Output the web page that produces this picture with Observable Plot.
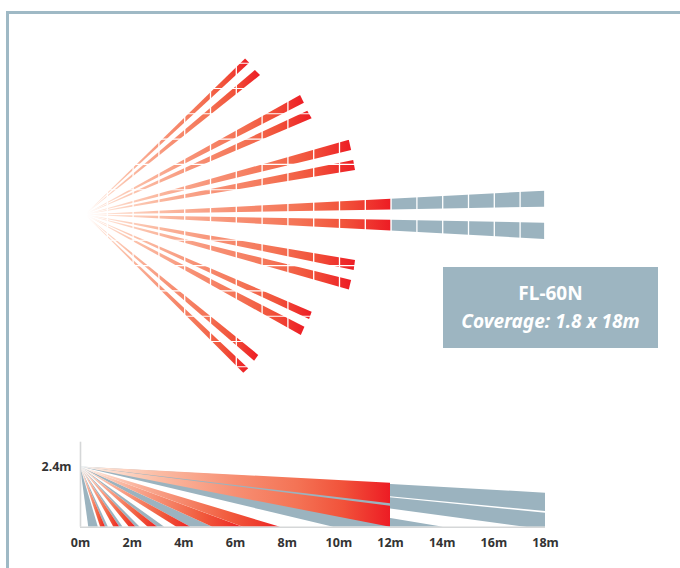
<!DOCTYPE html>
<html>
<head>
<meta charset="utf-8">
<script src="https://cdn.jsdelivr.net/npm/d3@7"></script>
<script src="https://cdn.jsdelivr.net/npm/@observablehq/plot@0.6"></script>
<style>
html,body{margin:0;padding:0;background:#fff;}
#page{position:relative;width:680px;height:568px;overflow:hidden;font-family:"Noto Sans",sans-serif;}
#plan,#side{position:absolute;left:0;}
#plan{top:0;} #side{top:420px;}
svg{display:block;}
.edge{position:absolute;background:#9fb9c5;}
#badge{position:absolute;left:443px;top:267px;width:215px;height:81px;background:#9db5c1;color:#fff;text-align:center;font-weight:700;font-size:19px;line-height:28px;box-sizing:border-box;padding-top:12px;}
#badge i{display:block;}
</style>
</head>
<body>
<div id="page">
  <div id="plan"></div>
  <div id="side"></div>
  <div class="edge" style="left:6px;top:11px;width:674px;height:3px"></div>
  <div class="edge" style="left:6px;top:11px;width:3px;height:557px"></div>
  <div id="badge">FL-60N<i>Coverage: 1.8 x 18m</i></div>
</div>
<script>
// ---- Plan view (metres): two edge tips for each of the beams
const planSource = [0.15, 0];
const tipAx = [6.36, 6.74, 8.49, 8.77, 10.38, 10.55, 12, 12, 10.62, 10.47, 8.94, 8.66, 6.87, 6.48];
const tipAy = [6.17, 5.71, 4.72, 4.10, 2.95, 2.15, 0.625, -0.209, -1.80, -2.59, -3.84, -4.44, -5.55, -6.08];
const tipBx = [6.52, 6.94, 8.64, 8.94, 10.47, 10.62, 12, 12, 10.57, 10.38, 8.84, 8.52, 6.71, 6.29];
const tipBy = [6.00, 5.51, 4.42, 3.80, 2.55, 1.76, 0.198, -0.636, -2.19, -2.96, -4.13, -4.76, -5.78, -6.25];
// grey far sections of the two central beams: start at 12 m, end at 18 m
const farX = [12, 17.95];
const farUpperA = [0.625, 0.941];
const farUpperB = [0.198, 0.308];
const farLowerA = [-0.209, -0.324];
const farLowerB = [-0.636, -0.968];
const gridX = [1,2,3,4,5,6,7,8,9,10,11,12,13,14,15,16,17];
const gridY = [-6,-5,-4,-3,-2,-1,1,2,3,4,5,6];

// ---- Side view (metres): ground crossing of each band's two edges
const mountHeight = 2.4;
const redGroundA = [0.78, 1.29, 1.89, 2.62, 3.73, 5.12, 6.30];
const redGroundB = [0.97, 1.52, 2.15, 2.99, 4.27, 6.29, 7.74];
const greyGroundA = [0.32, 0.97, 1.52, 2.15, 2.99, 4.27, 14.05];
const greyGroundB = [0.69, 1.08, 1.65, 2.31, 3.26, 5.12, 9.80];
// long beams, whose ends are given as x and height
const longRedX = [12, 12];
const longRedA = [1.754, 0.837];
const longRedB = [0.933, 0];
const longGreyX = [18, 18];
const longGreyA = [1.356, 0.558];
const longGreyB = [0.626, -0.11];
const axisTicks = [0,2,4,6,8,10,12,14,16,18];

const RED = "url(#beam)", RED_SHORT = "url(#beamShort)", GREY = "#9bb3bf";
const longStops = [[0,"#ffffff"],[0.07,"#fee3d6"],[0.25,"#fbbca4"],[0.5,"#f78f73"],[0.7,"#f47355"],[0.85,"#f1523a"],[1,"#ed1c24"]];
const shortStops = [[0,"#ffffff"],[0.1,"#fddccd"],[0.3,"#fab099"],[0.55,"#f58265"],[0.75,"#f15a3c"],[0.9,"#ee3a2c"],[1,"#ed1c24"]];

const defs = () => {
  const d = d3.create("svg:defs");
  for (const [id, stops] of [["beam", longStops], ["beamShort", shortStops]]) {
    const g = d.append("linearGradient").attr("id", id).attr("x1",0).attr("x2",1).attr("y1",0).attr("y2",0);
    stops.forEach(([o,c]) => g.append("stop").attr("offset",o).attr("stop-color",c));
  }
  return d.node();
};

// one ribbon = two rows, sharing a start and fanning out to its two tips
const ribbon = (id, ax0, ay0, bx0, by0, ax1, ay1, bx1, by1) => [
  {id, x1:ax0, y1:ay0, x2:bx0, y2:by0},
  {id, x1:ax1, y1:ay1, x2:bx1, y2:by1}
];
const [sx, sy] = planSource;
const planBeams = tipAx.flatMap((_, i) => ribbon(i, sx, sy, sx, sy, tipAx[i], tipAy[i], tipBx[i], tipBy[i]));
const planFar = [
  ...ribbon("u", farX[0], farUpperA[0], farX[0], farUpperB[0], farX[1], farUpperA[1], farX[1], farUpperB[1]),
  ...ribbon("l", farX[0], farLowerA[0], farX[0], farLowerB[0], farX[1], farLowerA[1], farX[1], farLowerB[1])
];
const ch = {x1:"x1", y1:"y1", x2:"x2", y2:"y2", z:"id"};

document.getElementById("plan").append(Plot.plot({
  width: 680, height: 420,
  marginLeft: 81, marginRight: 134.6, marginTop: 12.1, marginBottom: 3.1,
  style: {background:"transparent"},
  x: {domain:[0,18], axis:null},
  y: {domain:[-8,8], axis:null},
  marks: [
    defs,
    Plot.area(planFar, {...ch, fill: GREY}),
    Plot.area(planBeams, {...ch, fill: RED}),
    Plot.ruleX(gridX, {stroke:"#fff", strokeWidth:1.3}),
    Plot.ruleY(gridY, {stroke:"#fff", strokeWidth:1.1})
  ]
}));

const h = mountHeight;
const sideGrey = [
  ...greyGroundA.flatMap((_, i) => ribbon("g"+i, 0, h, 0, h, greyGroundA[i], 0, greyGroundB[i], 0)),
  ...longGreyX.flatMap((x, i) => ribbon("L"+i, 0, h, 0, h, x, longGreyA[i], x, longGreyB[i]))
];
const sideRedShort = redGroundA.flatMap((_, i) => ribbon("r"+i, 0, h, 0, h, redGroundA[i], 0, redGroundB[i], 0));
const sideRedLong = longRedX.flatMap((x, i) => ribbon("R"+i, 0, h, 0, h, x, longRedA[i], x, longRedB[i]));

document.getElementById("side").append(Plot.plot({
  width: 680, height: 148,
  marginLeft: 80, marginRight: 135, marginTop: 21.7, marginBottom: 41.3,
  style: {background:"transparent"},
  x: {domain:[0,18]},
  y: {domain:[0,3.39]},
  marks: [
    defs,
    Plot.area(sideGrey, {...ch, fill: GREY, clip:true}),
    Plot.area(sideRedShort, {...ch, fill: RED_SHORT, clip:true}),
    Plot.area(sideRedLong, {...ch, fill: RED, clip:true}),
    Plot.ruleX([0], {stroke:"#d5d7d8", strokeWidth:1.6}),
    Plot.ruleY([0], {stroke:"#d5d7d8", strokeWidth:1.6}),
    Plot.axisX(axisTicks, {tickSize:0, tickPadding:11, label:null, tickFormat:d=>d+"m",
      fontSize:12.5, fontWeight:700, fill:"#333", fontFamily:"Noto Sans"}),
    Plot.axisY([mountHeight], {tickSize:0, tickPadding:9, label:null, tickFormat:d=>d+"m",
      fontSize:12.5, fontWeight:700, fill:"#333", fontFamily:"Noto Sans"})
  ]
}));
</script>
</body>
</html>
